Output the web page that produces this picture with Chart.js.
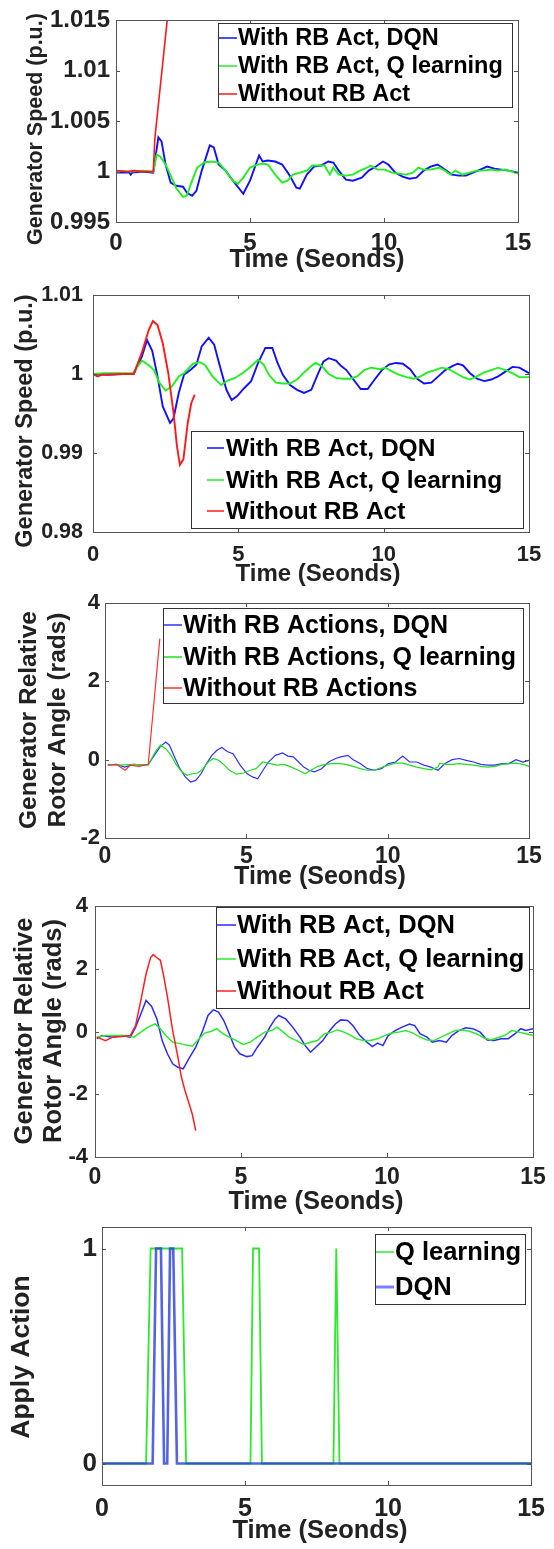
<!DOCTYPE html>
<html>
<head>
<meta charset="utf-8">
<title>Generator response with RB actions</title>
<script src="https://cdn.jsdelivr.net/npm/chart.js@4/dist/chart.umd.min.js"></script>
<style>
  html, body { margin: 0; padding: 0; background: #fff; }
  #page { position: relative; width: 554px; height: 1549px; overflow: hidden; background: #fff; }
  #page canvas { position: absolute; left: 0; }
</style>
</head>
<body>
<div id="page"></div>
<script>
// ---- shared axis data ----
const timeTicks = [0, 5, 10, 15];
const speedTicksA = [0.995, 1, 1.005, 1.01, 1.015];
const speedTicksB = [0.98, 0.99, 1, 1.01];
const angleTicksA = [-2, 0, 2, 4];
const angleTicksB = [-4, -2, 0, 2, 4];
const actionTicks = [0, 1];

// ---- generator speed, case A: [time, p.u.] ----
const speedA_dqn = [[0,0.9999],[0.5,0.9999],[0.55,0.9997],[0.6,0.9999],[1.0,1.0],[1.39,0.9999],[1.58,1.0034],[1.7,1.003],[1.85,1.0007],[2.04,0.9989],[2.24,0.9986],[2.5,0.9985],[2.65,0.9979],[2.84,0.9976],[3.0,0.9981],[3.2,1.0001],[3.5,1.0026],[3.65,1.0024],[3.83,1.0007],[4.09,1.0001],[4.42,0.9989],[4.75,0.9978],[5.0,0.9991],[5.34,1.0016],[5.47,1.001],[5.67,1.0011],[5.94,1.001],[6.2,1.0007],[6.46,0.9997],[6.73,0.9984],[6.86,0.9983],[7.12,0.9997],[7.39,1.0005],[7.65,1.0006],[7.92,1.001],[8.11,1.0009],[8.31,1.0001],[8.58,0.9992],[8.84,0.9991],[9.17,0.9994],[9.43,1.0001],[9.7,1.0005],[9.96,1.001],[10.16,1.0007],[10.42,0.9999],[10.69,0.9995],[10.95,0.9993],[11.21,0.9994],[11.48,1.0001],[11.74,1.0005],[12.0,1.0007],[12.27,1.0002],[12.53,0.9997],[12.8,0.9996],[13.06,0.9996],[13.32,0.9999],[13.59,1.0002],[13.85,1.0005],[14.12,1.0003],[14.38,1.0002],[14.64,1.0001],[15,0.9999]];
const speedA_q = [[0,1.0001],[0.6,1.0],[1.0,1.0001],[1.39,1.0],[1.52,1.0017],[1.65,1.0015],[1.85,1.0007],[2.04,0.9996],[2.24,0.9984],[2.5,0.9975],[2.64,0.9976],[2.84,0.9991],[3.03,1.0004],[3.3,1.0009],[3.56,1.001],[3.83,1.0009],[4.09,1.0001],[4.35,0.9991],[4.55,0.9988],[4.75,0.9994],[5.0,1.0004],[5.28,1.0007],[5.47,1.0008],[5.67,1.0007],[5.94,0.9997],[6.2,0.9989],[6.4,0.9991],[6.6,0.9997],[6.86,0.9999],[7.12,1.0001],[7.32,1.0006],[7.59,1.0006],[7.78,1.0006],[7.98,0.9997],[8.11,1.0004],[8.31,0.9997],[8.58,0.9996],[8.84,0.9997],[9.1,1.0001],[9.37,1.0004],[9.5,1.0006],[9.76,1.0002],[10.03,1.0002],[10.29,0.9999],[10.55,0.9998],[10.82,0.9997],[11.08,0.9999],[11.28,1.0004],[11.48,1.0002],[11.74,1.0002],[12.07,1.0004],[12.27,1.0001],[12.47,0.9997],[12.66,1.0001],[12.93,0.9997],[13.19,0.9999],[13.46,1.0001],[13.72,1.0001],[13.98,1.0002],[14.25,1.0001],[14.51,1.0002],[14.78,1.0],[15,0.9998]];
const speedA_none = [[0,1.0001],[0.4,1.0],[0.7,1.0001],[1.0,1.0],[1.39,1.0],[1.45,1.0033],[1.95,1.016]];

// ---- generator speed, case B ----
const speedB_dqn = [[0,1.0],[0.5,0.9999],[1.0,1.0],[1.4,1.0],[1.68,1.0022],[1.86,1.0043],[2.04,1.0029],[2.22,0.9997],[2.4,0.9959],[2.65,0.9938],[2.77,0.9944],[2.95,0.9976],[3.13,0.9999],[3.38,1.0006],[3.56,1.0012],[3.74,1.0035],[3.98,1.0046],[4.17,1.0037],[4.35,1.0012],[4.59,0.998],[4.77,0.9967],[4.96,0.9972],[5.2,0.9982],[5.44,0.9991],[5.68,1.0014],[5.93,1.0033],[6.17,1.0033],[6.35,1.0014],[6.53,0.9999],[6.78,0.9986],[7.02,0.998],[7.26,0.9976],[7.51,0.998],[7.75,1.0001],[7.93,1.0016],[8.11,1.002],[8.36,1.0017],[8.54,1.001],[8.72,1.0005],[8.96,0.9993],[9.21,0.9981],[9.45,0.9981],[9.69,0.9993],[9.94,1.0005],[10.18,1.0012],[10.42,1.0014],[10.66,1.0013],[10.91,1.0006],[11.15,0.9994],[11.39,0.9988],[11.64,0.9989],[11.88,0.9997],[12.12,1.0005],[12.36,1.001],[12.55,1.0013],[12.73,1.0011],[12.97,1.0001],[13.21,0.9994],[13.46,0.9991],[13.7,0.9993],[13.94,0.9997],[14.19,1.0003],[14.43,1.0009],[14.67,1.0008],[15,1.0001]];
const speedB_q = [[0,1.0],[0.4,1.0001],[1.0,1.0001],[1.37,1.0001],[1.68,1.0017],[1.92,1.0011],[2.1,1.0005],[2.28,0.9989],[2.5,0.9979],[2.71,0.9984],[2.95,0.9997],[3.13,1.0001],[3.44,1.0013],[3.68,1.0015],[3.86,1.0011],[4.11,0.9997],[4.41,0.9986],[4.65,0.9992],[4.89,0.9995],[5.14,1.0001],[5.32,1.0006],[5.5,1.0012],[5.68,1.0018],[5.87,1.0012],[6.05,0.9999],[6.29,0.9989],[6.53,0.9988],[6.78,0.9988],[7.02,0.9993],[7.26,1.0002],[7.51,1.001],[7.66,1.0014],[7.87,1.001],[8.11,1.0],[8.36,0.9995],[8.6,0.9994],[8.84,0.9994],[9.09,0.9997],[9.33,1.0005],[9.57,1.0008],[9.87,1.0006],[10.06,1.0008],[10.3,1.0003],[10.54,0.9999],[10.79,0.9996],[11.03,0.9994],[11.27,0.9997],[11.51,1.0002],[11.76,1.0005],[12.0,1.0008],[12.24,1.0006],[12.49,1.0001],[12.73,0.9996],[12.97,0.9993],[13.21,0.9997],[13.46,1.0002],[13.7,1.0005],[13.94,1.0008],[14.19,1.0005],[14.43,1.0001],[14.67,0.9996],[15,0.9996]];
const speedB_none = [[0,1.0],[0.15,0.9997],[0.3,0.9999],[1.0,1.0],[1.4,1.0],[1.68,1.0027],[1.92,1.0056],[2.06,1.0067],[2.22,1.0062],[2.4,1.0039],[2.59,1.0001],[2.77,0.9951],[2.89,0.9908],[2.99,0.9885],[3.11,0.9892],[3.26,0.9938],[3.38,0.9963],[3.5,0.9974]];

// ---- relative rotor angle, case A: [time, rad] ----
const angleA_dqn = [[0.1,-0.14],[0.4,-0.12],[0.7,-0.19],[1.0,-0.12],[1.3,-0.14],[1.53,-0.12],[1.78,0.15],[1.96,0.34],[2.15,0.45],[2.28,0.37],[2.46,0.07],[2.65,-0.23],[2.84,-0.44],[3.03,-0.57],[3.21,-0.53],[3.4,-0.36],[3.59,-0.1],[3.78,0.11],[3.96,0.24],[4.13,0.31],[4.34,0.2],[4.53,0.15],[4.78,-0.14],[5.03,-0.36],[5.22,-0.44],[5.4,-0.49],[5.59,-0.27],[5.78,-0.06],[6.03,0.11],[6.28,0.17],[6.47,0.09],[6.66,0.07],[6.85,-0.06],[7.03,-0.19],[7.22,-0.27],[7.41,-0.31],[7.66,-0.23],[7.91,-0.06],[8.16,0.03],[8.34,0.07],[8.59,0.11],[8.78,0.0],[9.03,-0.1],[9.28,-0.23],[9.53,-0.27],[9.78,-0.23],[10.03,-0.1],[10.28,-0.06],[10.53,0.09],[10.78,-0.06],[11.03,-0.06],[11.28,-0.14],[11.53,-0.19],[11.78,-0.27],[12.03,-0.1],[12.28,0.0],[12.53,0.03],[12.78,-0.02],[13.04,-0.06],[13.29,-0.12],[13.54,-0.14],[13.79,-0.14],[14.04,-0.1],[14.29,-0.1],[14.54,0.0],[14.79,-0.06],[15,-0.02]];
const angleA_q = [[0.1,-0.12],[0.5,-0.14],[1.0,-0.12],[1.53,-0.14],[1.78,0.2],[1.96,0.37],[2.15,0.28],[2.34,0.11],[2.53,-0.14],[2.72,-0.31],[2.9,-0.4],[3.09,-0.36],[3.28,-0.34],[3.47,-0.23],[3.65,-0.06],[3.84,0.03],[4.03,-0.02],[4.22,-0.14],[4.4,-0.27],[4.65,-0.37],[4.9,-0.34],[5.15,-0.27],[5.34,-0.23],[5.59,-0.06],[5.84,-0.1],[6.09,-0.14],[6.34,-0.12],[6.59,-0.19],[6.84,-0.27],[7.09,-0.36],[7.28,-0.27],[7.53,-0.17],[7.78,-0.12],[8.03,-0.1],[8.28,-0.1],[8.53,-0.12],[8.78,-0.17],[9.03,-0.23],[9.28,-0.27],[9.53,-0.27],[9.78,-0.2],[10.03,-0.14],[10.28,-0.09],[10.53,-0.09],[10.78,-0.14],[11.03,-0.19],[11.28,-0.23],[11.53,-0.26],[11.78,-0.19],[11.84,-0.09],[12.03,-0.12],[12.28,-0.12],[12.53,-0.1],[12.78,-0.12],[13.04,-0.14],[13.29,-0.17],[13.54,-0.19],[13.79,-0.17],[14.04,-0.12],[14.29,-0.1],[14.54,-0.09],[14.79,-0.12],[15,-0.17]];
const angleA_none = [[0.1,-0.14],[0.4,-0.12],[0.71,-0.27],[0.9,-0.14],[1.2,-0.17],[1.53,-0.12],[1.94,3.09]];

// ---- relative rotor angle, case B ----
const angleB_dqn = [[0.06,-0.23],[0.24,-0.13],[0.6,-0.18],[0.91,-0.13],[1.21,-0.18],[1.39,0.14],[1.57,0.56],[1.75,0.99],[1.94,0.8],[2.12,0.4],[2.3,-0.29],[2.48,-0.71],[2.66,-1.03],[2.84,-1.14],[3.02,-1.19],[3.21,-0.87],[3.45,-0.5],[3.69,0.03],[3.87,0.51],[4.05,0.69],[4.23,0.62],[4.41,0.35],[4.6,-0.07],[4.78,-0.5],[4.96,-0.71],[5.2,-0.8],[5.38,-0.77],[5.56,-0.5],[5.81,-0.18],[5.99,0.14],[6.17,0.4],[6.29,0.51],[6.53,0.4],[6.77,0.14],[7.02,-0.18],[7.2,-0.45],[7.38,-0.66],[7.56,-0.5],[7.8,-0.29],[8.04,0.03],[8.23,0.24],[8.41,0.37],[8.65,0.35],[8.83,0.19],[9.07,-0.13],[9.31,-0.34],[9.5,-0.48],[9.68,-0.37],[9.86,-0.45],[10.04,-0.13],[10.28,0.03],[10.52,0.14],[10.77,0.24],[10.95,0.19],[11.13,-0.07],[11.37,-0.18],[11.55,-0.34],[11.79,-0.29],[12.03,-0.34],[12.22,-0.13],[12.46,0.03],[12.7,0.12],[12.94,0.09],[13.19,-0.02],[13.43,-0.27],[13.67,-0.29],[13.91,-0.23],[14.15,-0.23],[14.39,-0.07],[14.58,0.09],[14.76,0.03],[15,0.09]];
const angleB_q = [[0.06,-0.18],[0.36,-0.13],[0.73,-0.13],[1.09,-0.13],[1.33,-0.18],[1.57,-0.02],[1.81,0.14],[2.06,0.24],[2.24,0.09],[2.42,-0.13],[2.66,-0.34],[3.02,-0.41],[3.33,-0.47],[3.51,-0.29],[3.75,-0.05],[3.99,0.01],[4.17,0.09],[4.35,-0.05],[4.6,-0.18],[4.84,-0.29],[5.08,-0.41],[5.32,-0.34],[5.56,-0.18],[5.81,-0.02],[6.05,0.03],[6.23,0.14],[6.41,0.01],[6.65,-0.18],[6.9,-0.29],[7.14,-0.41],[7.38,-0.34],[7.62,-0.29],[7.86,-0.07],[8.11,-0.02],[8.29,0.05],[8.53,-0.02],[8.77,-0.13],[8.95,-0.23],[9.19,-0.29],[9.43,-0.29],[9.68,-0.23],[9.92,-0.13],[10.16,-0.05],[10.4,-0.02],[10.64,0.03],[10.89,-0.05],[11.13,-0.18],[11.37,-0.27],[11.61,-0.29],[11.85,-0.18],[12.1,-0.07],[12.34,0.03],[12.58,0.05],[12.82,0.01],[13.06,-0.07],[13.31,-0.2],[13.55,-0.27],[13.79,-0.2],[14.03,-0.13],[14.27,0.03],[14.52,-0.02],[14.76,-0.07],[15,-0.13]];
const angleB_none = [[0.06,-0.18],[0.36,-0.29],[0.6,-0.18],[0.91,-0.16],[1.21,-0.13],[1.39,0.19],[1.57,0.99],[1.75,1.84],[1.91,2.37],[2.0,2.45],[2.12,2.35],[2.24,2.27],[2.36,1.73],[2.48,1.1],[2.66,0.03],[2.84,-0.82],[2.96,-1.46],[3.08,-1.88],[3.21,-2.26],[3.33,-2.63],[3.45,-3.16]];

// ---- applied action (0 / 1) ----
const action_q = [[0,0],[1.54,0],[1.7,1],[2.8,1],[2.94,0],[5.19,0],[5.28,1],[5.49,1],[5.59,0],[8.09,0],[8.19,1],[8.3,0],[15,0]];
const action_dqn = [[0,0],[1.77,0],[1.89,1],[2.06,1],[2.17,0],[2.28,0],[2.38,1],[2.49,1],[2.62,0],[15,0]];

const FONT = '"Liberation Sans", Arial, Helvetica, sans-serif';
const TEXT = '#222';
const PAGE_W = 554;

const fmtTick = v => String(Number(v.toFixed(4)));

// box with inward ticks on all four sides, then legend and axis titles
const matlabAxes = {
  id: 'matlabAxes',
  afterDatasetsDraw(chart, args, opts) {
    const { ctx, chartArea: a, scales: { x, y } } = chart;
    ctx.save();
    ctx.strokeStyle = '#555';
    ctx.lineWidth = 1;
    ctx.strokeRect(Math.round(a.left) + 0.5, Math.round(a.top) + 0.5,
      Math.round(a.right - a.left), Math.round(a.bottom - a.top));
    ctx.beginPath();
    x.ticks.forEach(t => {
      const px = Math.round(x.getPixelForValue(t.value)) + 0.5;
      ctx.moveTo(px, a.bottom); ctx.lineTo(px, a.bottom - 4);
      ctx.moveTo(px, a.top); ctx.lineTo(px, a.top + 4);
    });
    y.ticks.forEach(t => {
      const py = Math.round(y.getPixelForValue(t.value)) + 0.5;
      ctx.moveTo(a.left, py); ctx.lineTo(a.left + 4, py);
      ctx.moveTo(a.right, py); ctx.lineTo(a.right - 4, py);
    });
    ctx.stroke();
    ctx.restore();
  },
  afterDraw(chart, args, opts) {
    const ctx = chart.ctx;
    const off = opts.offset;
    const lg = opts.legend;
    ctx.save();
    // legend
    const [bl, bt, br, bb] = lg.box;
    ctx.fillStyle = '#fff';
    ctx.fillRect(bl, bt - off, br - bl, bb - bt);
    ctx.strokeStyle = '#333';
    ctx.lineWidth = 1;
    ctx.strokeRect(bl + 0.5, bt - off + 0.5, br - bl, bb - bt);
    ctx.font = `bold ${lg.size}px ${FONT}`;
    ctx.textAlign = 'left';
    ctx.textBaseline = 'middle';
    chart.data.datasets.forEach((ds, i) => {
      const ry = lg.rows[i] - off;
      ctx.strokeStyle = ds.legendColor || ds.borderColor;
      ctx.lineWidth = ds.legendWidth || 1.5;
      ctx.beginPath();
      ctx.moveTo(lg.sample[0], ry);
      ctx.lineTo(lg.sample[1], ry);
      ctx.stroke();
      ctx.fillStyle = '#000';
      ctx.fillText(ds.label, lg.textX, ry + 1);
    });
    // axis titles
    ctx.fillStyle = TEXT;
    ctx.textAlign = 'center';
    opts.titles.forEach(t => {
      ctx.save();
      ctx.font = `bold ${t.size}px ${FONT}`;
      ctx.translate(t.x, t.y - off);
      if (t.rot) ctx.rotate(-Math.PI / 2);
      ctx.fillText(t.text, 0, 0);
      ctx.restore();
    });
    ctx.restore();
  }
};

function makePanel(p) {
  const canvas = document.createElement('canvas');
  const top = p.band[0];
  const h = p.band[1] - p.band[0];
  canvas.width = PAGE_W;
  canvas.height = h;
  canvas.style.top = top + 'px';
  document.getElementById('page').appendChild(canvas);

  const n = p.series.length;
  const tickFont = size => ({ family: FONT, size: size, weight: 'bold' });

  new Chart(canvas, {
    type: 'line',
    data: {
      datasets: p.series.map((s, i) => ({
        label: s.label,
        data: s.data.map(([t, v]) => ({ x: t, y: v })),
        borderColor: s.color,
        borderWidth: s.width,
        legendColor: s.legendColor,
        legendWidth: s.legendWidth,
        pointRadius: 0,
        tension: 0,
        fill: false,
        order: n - i
      }))
    },
    options: {
      responsive: false,
      animation: false,
      events: [],
      layout: { padding: { left: 0, right: PAGE_W - p.area.r, top: p.area.t - top, bottom: 0 } },
      plugins: {
        legend: { display: false },
        tooltip: { enabled: false },
        matlabAxes: { offset: top, legend: p.legend, titles: p.titles }
      },
      scales: {
        x: {
          type: 'linear', min: 0, max: 15,
          grid: { display: false, drawTicks: false },
          border: { display: false },
          afterBuildTicks: s => { s.ticks = timeTicks.map(v => ({ value: v })); },
          afterFit: s => { s.height = h - (p.area.b - top); },
          ticks: { padding: p.xPad, color: TEXT, font: tickFont(p.xSize), maxRotation: 0, autoSkip: false, callback: fmtTick }
        },
        y: {
          type: 'linear', min: p.yMin, max: p.yMax,
          grid: { display: false, drawTicks: false },
          border: { display: false },
          afterBuildTicks: s => { s.ticks = p.yTicks.map(v => ({ value: v })); },
          afterFit: s => { s.width = p.area.l; },
          ticks: { padding: p.yPad, color: TEXT, font: tickFont(p.ySize), autoSkip: false, callback: fmtTick }
        }
      }
    },
    plugins: [matlabAxes]
  });
}

const timeTitle = 'Time (Seonds)';

makePanel({
  band: [0, 290],
  area: { l: 116, r: 518, t: 17, b: 222 },
  yMin: 0.995, yMax: 1.015, yTicks: speedTicksA,
  ySize: 24, yPad: 6, xSize: 24, xPad: 7,
  series: [
    { label: 'With RB Act, DQN', data: speedA_dqn, color: '#1010ff', width: 1.9 },
    { label: 'With RB Act, Q learning', data: speedA_q, color: '#22ee22', width: 1.9 },
    { label: 'Without RB Act', data: speedA_none, color: '#ff1a1a', width: 1.6 }
  ],
  legend: { box: [218, 23, 512, 107], rows: [38, 66, 94], sample: [219, 237], textX: 238, size: 23.5 },
  titles: [
    { text: timeTitle, x: 317, y: 260, size: 25.5 },
    { text: 'Generator Speed (p.u.)', x: 36, y: 129, size: 21.5, rot: true }
  ]
});

makePanel({
  band: [270, 600],
  area: { l: 93, r: 529, t: 295, b: 532 },
  yMin: 0.98, yMax: 1.01, yTicks: speedTicksB,
  ySize: 21.5, yPad: 10, xSize: 22, xPad: 10,
  series: [
    { label: 'With RB Act, DQN', data: speedB_dqn, color: '#1010ff', width: 1.9 },
    { label: 'With RB Act, Q learning', data: speedB_q, color: '#22ee22', width: 1.9 },
    { label: 'Without RB Act', data: speedB_none, color: '#ff1a1a', width: 1.9 }
  ],
  legend: { box: [191, 431, 523, 528], rows: [448, 480, 511], sample: [207, 224], textX: 226, size: 24.5 },
  titles: [
    { text: timeTitle, x: 318, y: 574, size: 24 },
    { text: 'Generator Speed (p.u.)', x: 26, y: 421, size: 23.5, rot: true }
  ]
});

makePanel({
  band: [580, 900],
  area: { l: 105, r: 529, t: 603, b: 838 },
  yMin: -2, yMax: 4, yTicks: angleTicksA,
  ySize: 22, yPad: 5, xSize: 23, xPad: 5,
  series: [
    { label: 'With RB Actions, DQN', data: angleA_dqn, color: '#3030ff', width: 1.2 },
    { label: 'With RB Actions, Q learning', data: angleA_q, color: '#22dd22', width: 1.2 },
    { label: 'Without RB Actions', data: angleA_none, color: '#ff3030', width: 1.2 }
  ],
  legend: { box: [163, 608, 523, 703], rows: [625, 657, 688], sample: [164, 182], textX: 183, size: 25 },
  titles: [
    { text: timeTitle, x: 320, y: 877, size: 25 },
    { text: 'Generator Relative', x: 29, y: 720, size: 24.5, rot: true },
    { text: 'Rotor Angle (rads)', x: 58, y: 720, size: 24.5, rot: true }
  ]
});

makePanel({
  band: [880, 1222],
  area: { l: 95, r: 533, t: 906, b: 1157 },
  yMin: -4, yMax: 4, yTicks: angleTicksB,
  ySize: 22, yPad: 7, xSize: 23, xPad: 7,
  series: [
    { label: 'With RB Act, DQN', data: angleB_dqn, color: '#2a2aff', width: 1.5 },
    { label: 'With RB Act, Q learning', data: angleB_q, color: '#2ee82e', width: 1.5 },
    { label: 'Without RB Act', data: angleB_none, color: '#ff2020', width: 1.5 }
  ],
  legend: { box: [216, 907, 529, 1008], rows: [925, 959, 991], sample: [217, 236], textX: 237, size: 25.5 },
  titles: [
    { text: timeTitle, x: 316, y: 1202, size: 25.5 },
    { text: 'Generator Relative', x: 25, y: 1031, size: 25.5, rot: true },
    { text: 'Rotor Angle (rads)', x: 54, y: 1031, size: 25.5, rot: true }
  ]
});

// DQN trace is semi-transparent so the shared zero line blends with the green one
makePanel({
  band: [1205, 1549],
  area: { l: 102, r: 532, t: 1227, b: 1485 },
  yMin: -0.1, yMax: 1.1, yTicks: actionTicks,
  ySize: 26, yPad: 5, xSize: 25, xPad: 9,
  series: [
    { label: 'Q learning', data: action_q, color: '#2ee82e', width: 1.8 },
    { label: 'DQN', data: action_dqn, color: 'rgba(40,60,220,0.8)', width: 2.6, legendColor: '#7d7dff', legendWidth: 3 }
  ],
  legend: { box: [375, 1234, 525, 1304], rows: [1252, 1287], sample: [376, 394], textX: 395, size: 25.5 },
  titles: [
    { text: timeTitle, x: 320, y: 1531, size: 25.5 },
    { text: 'Apply Action', x: 22, y: 1357, size: 26.5, rot: true }
  ]
});
</script>
</body>
</html>
